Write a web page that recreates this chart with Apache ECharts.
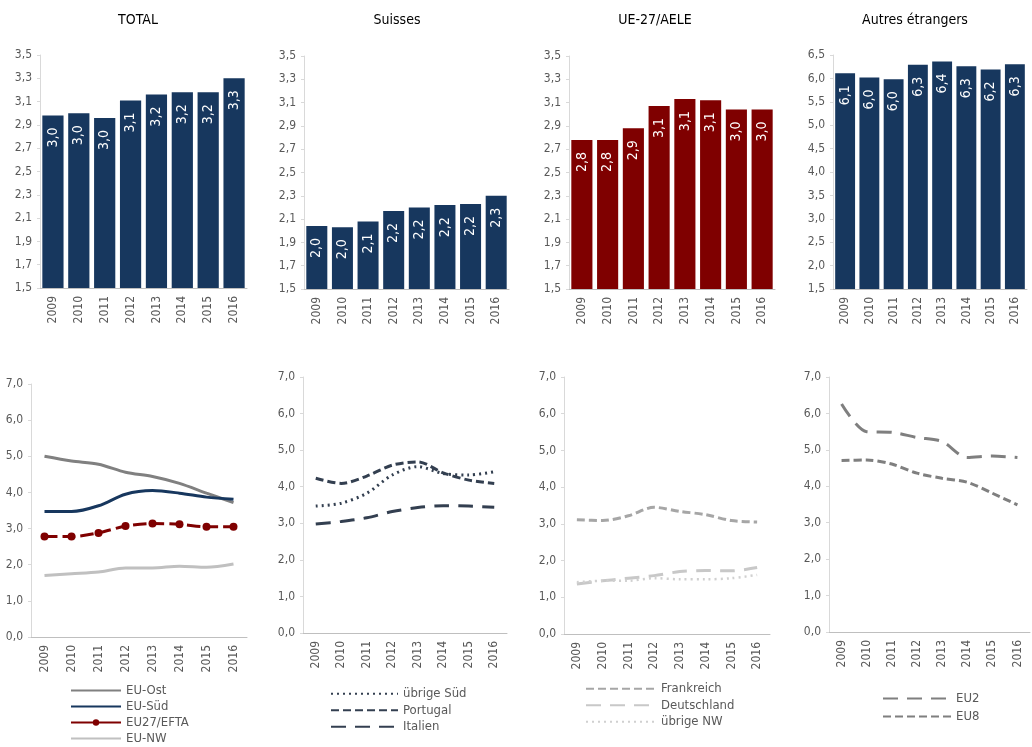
<!DOCTYPE html>
<html>
<head>
<meta charset="utf-8">
<script src="https://cdn.jsdelivr.net/npm/echarts@6/dist/echarts.min.js"></script>
<style>
  html, body { margin: 0; padding: 0; background: #fff; }
  #chart { width: 1032px; height: 747px; }
</style>
</head>
<body>
<div id="chart"></div>
<script>
// années
const years = ['2009', '2010', '2011', '2012', '2013', '2014', '2015', '2016'];

// barres du haut
const total = [2.98, 3.0, 2.96, 3.11, 3.16, 3.18, 3.18, 3.30];
const suisses = [2.04, 2.03, 2.08, 2.17, 2.20, 2.22, 2.23, 2.30];
const ue27 = [2.78, 2.78, 2.88, 3.07, 3.13, 3.12, 3.04, 3.04];
const autres = [6.11, 6.02, 5.98, 6.29, 6.36, 6.26, 6.19, 6.30];

// lignes du bas
const euOst = [5.0, 4.87, 4.78, 4.56, 4.44, 4.25, 3.98, 3.72];
const euSued = [3.47, 3.47, 3.63, 3.95, 4.05, 3.98, 3.87, 3.81];
const eu27efta = [2.78, 2.78, 2.88, 3.07, 3.14, 3.12, 3.05, 3.05];
const euNW = [1.70, 1.75, 1.80, 1.91, 1.91, 1.96, 1.93, 2.02];

const uebrigeSued = [3.47, 3.55, 3.82, 4.32, 4.55, 4.36, 4.32, 4.41];
const portugal = [4.23, 4.09, 4.29, 4.59, 4.68, 4.38, 4.18, 4.09];
const italien = [2.98, 3.05, 3.15, 3.32, 3.43, 3.48, 3.47, 3.44];

const frankreich = [3.11, 3.09, 3.22, 3.45, 3.34, 3.25, 3.09, 3.05];
const deutschland = [1.36, 1.45, 1.52, 1.59, 1.70, 1.73, 1.72, 1.81];
const uebrigeNW = [1.41, 1.45, 1.45, 1.52, 1.49, 1.49, 1.52, 1.61];

const eu2 = [6.26, 5.50, 5.48, 5.34, 5.23, 4.79, 4.83, 4.79];
const eu8 = [4.71, 4.72, 4.61, 4.36, 4.22, 4.11, 3.81, 3.49];

// graduations
const ticksSmall = [1.5, 1.7, 1.9, 2.1, 2.3, 2.5, 2.7, 2.9, 3.1, 3.3, 3.5];
const ticksAutres = [1.5, 2.0, 2.5, 3.0, 3.5, 4.0, 4.5, 5.0, 5.5, 6.0, 6.5];
const ticksLines = [0, 1, 2, 3, 4, 5, 6, 7];

const titles = ['TOTAL', 'Suisses', 'UE-27/AELE', 'Autres étrangers'];

const FONT = "'Liberation Sans Narrow', 'Arial Narrow', 'DejaVu Sans Condensed', sans-serif";
const NAVY = '#17375E';
const RED = '#7F0000';
const SLATE = '#333F50';

const fmt = v => v.toFixed(1).replace('.', ',');

const grids = [
  { left: 40, top: 55, width: 207, height: 233 },
  { left: 304, top: 56, width: 205, height: 233 },
  { left: 569, top: 56, width: 206, height: 233 },
  { left: 833, top: 55, width: 194, height: 234 },
  { left: 31, top: 384, width: 216, height: 253 },
  { left: 303, top: 377, width: 204, height: 256 },
  { left: 564, top: 377, width: 206, height: 257 },
  { left: 829, top: 377, width: 201, height: 255 }
];

const xAxes = grids.map((g, i) => ({
  type: 'category',
  gridIndex: i,
  data: years,
  axisLine: { lineStyle: { color: '#BFBFBF' } },
  axisTick: { show: false },
  axisLabel: { rotate: 90, color: '#595959', fontSize: 12, fontFamily: FONT, margin: 8 }
}));

function yAxis(i, min, max, ticks) {
  return {
    type: 'value',
    gridIndex: i,
    min: min,
    max: max,
    splitLine: { show: false },
    axisLine: { show: true, lineStyle: { color: '#D9D9D9' } },
    axisTick: { show: true, length: 3, lineStyle: { color: '#D9D9D9' }, customValues: ticks },
    axisLabel: { color: '#595959', fontSize: 12, fontFamily: FONT, margin: 8, formatter: fmt, customValues: ticks }
  };
}

const yAxes = [
  yAxis(0, 1.5, 3.5, ticksSmall),
  yAxis(1, 1.5, 3.5, ticksSmall),
  yAxis(2, 1.5, 3.5, ticksSmall),
  yAxis(3, 1.5, 6.5, ticksAutres),
  yAxis(4, 0, 7, ticksLines),
  yAxis(5, 0, 7, ticksLines),
  yAxis(6, 0, 7, ticksLines),
  yAxis(7, 0, 7, ticksLines)
];

function bars(i, data, color) {
  return {
    type: 'bar',
    xAxisIndex: i,
    yAxisIndex: i,
    data: data,
    barCategoryGap: '18%',
    itemStyle: { color: color },
    label: {
      show: true,
      position: 'insideTop',
      rotate: 90,
      align: 'right',
      verticalAlign: 'middle',
      distance: 12,
      color: '#fff',
      fontSize: 14,
      fontFamily: FONT,
      formatter: p => fmt(p.value)
    }
  };
}

function line(i, name, data, color, type, width, extra) {
  return Object.assign({
    type: 'line',
    name: name,
    xAxisIndex: i,
    yAxisIndex: i,
    data: data,
    smooth: 0.3,
    symbol: 'none',
    lineStyle: { color: color, width: width, type: type },
    itemStyle: { color: color }
  }, extra || {});
}

const series = [
  bars(0, total, NAVY),
  bars(1, suisses, NAVY),
  bars(2, ue27, RED),
  bars(3, autres, NAVY),
  line(4, 'EU-Ost', euOst, '#808080', 'solid', 3),
  line(4, 'EU-Süd', euSued, NAVY, 'solid', 3),
  line(4, 'EU27/EFTA', eu27efta, RED, [13, 5], 3, { symbol: 'circle', symbolSize: 8 }),
  line(4, 'EU-NW', euNW, '#C0C0C0', 'solid', 3),
  line(5, 'übrige Süd', uebrigeSued, SLATE, [2, 4], 3),
  line(5, 'Portugal', portugal, SLATE, [8, 4], 3),
  line(5, 'Italien', italien, SLATE, [15, 9], 3),
  line(6, 'Frankreich', frankreich, '#A6A6A6', [8, 4], 3),
  line(6, 'Deutschland', deutschland, '#C8C8C8', [15, 9], 3),
  line(6, 'übrige NW', uebrigeNW, '#D0D0D0', [2, 4], 2.5),
  line(7, 'EU2', eu2, '#7F7F7F', [15, 9], 3),
  line(7, 'EU8', eu8, '#7F7F7F', [8, 4], 3)
];

// pas de symbole dans la légende, sauf pour EU27/EFTA
const noSymbol = { color: 'rgba(0,0,0,0)', borderWidth: 0 };
function legend(left, top, names, w, gap, lh) {
  return {
    left: left,
    top: top,
    padding: 0,
    orient: 'vertical',
    data: names.map(n => n === 'EU27/EFTA'
      ? { name: n, itemStyle: { color: RED, borderWidth: 0 }, lineStyle: { type: 'solid' } }
      : { name: n }),
    itemWidth: w,
    itemHeight: 8,
    itemGap: gap,
    itemStyle: noSymbol,
    textStyle: { color: '#595959', fontSize: 13, fontFamily: FONT, lineHeight: lh },
    selectedMode: false
  };
}

const option = {
  animation: false,
  title: titles.map((t, i) => ({
    text: t,
    left: [133, 392, 650, 910][i],
    top: 8,
    textAlign: 'center',
    textStyle: { fontSize: 14, fontWeight: 'normal', color: '#000', fontFamily: FONT }
  })),
  grid: grids,
  xAxis: xAxes,
  yAxis: yAxes,
  legend: [
    legend(70, 683, ['EU-Ost', 'EU-Süd', 'EU27/EFTA', 'EU-NW'], 50, 1, 15),
    legend(330, 686, ['übrige Süd', 'Portugal', 'Italien'], 67, 1, 15.5),
    legend(585, 681, ['Frankreich', 'Deutschland', 'übrige NW'], 70, 1, 15.5),
    legend(882, 691, ['EU2', 'EU8'], 68, 3, 15)
  ],
  series: series
};

const myChart = echarts.init(document.getElementById('chart'));
myChart.setOption(option);
</script>
</body>
</html>
